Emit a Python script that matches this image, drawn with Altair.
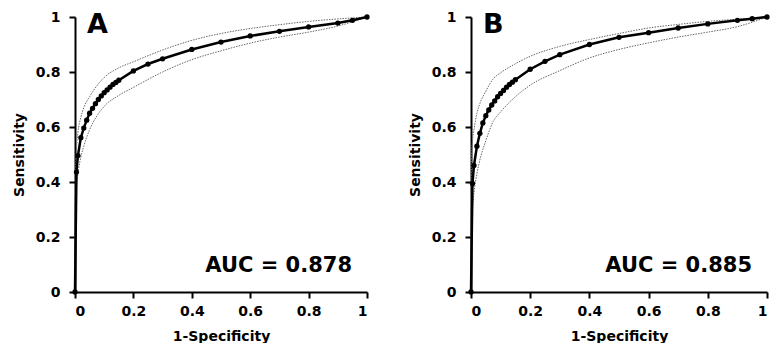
import altair as alt
import pandas as pd

# ---- Panel A data ----
fpr_a = [0, 0.005, 0.01, 0.02, 0.03, 0.04, 0.05, 0.06, 0.07, 0.08, 0.09, 0.10, 0.11, 0.12,
         0.13, 0.14, 0.15, 0.2, 0.25, 0.3, 0.4, 0.5, 0.6, 0.7, 0.8, 0.9, 0.95, 1]
sens_a = [0, 0.436, 0.496, 0.561, 0.596, 0.625, 0.65, 0.668, 0.685, 0.70, 0.713, 0.725, 0.735,
          0.745, 0.755, 0.762, 0.77, 0.804, 0.829, 0.848, 0.882, 0.909, 0.931, 0.948, 0.964,
          0.978, 0.988, 1]

ci_fpr = [0, 0.002, 0.005, 0.01, 0.02, 0.03, 0.05, 0.075, 0.1, 0.15, 0.2, 0.3, 0.4, 0.5,
          0.6, 0.7, 0.8, 0.9, 1]
upper_a = [0, 0.45, 0.52, 0.58, 0.635, 0.67, 0.71, 0.75, 0.78, 0.815, 0.837, 0.88, 0.915,
           0.94, 0.958, 0.972, 0.984, 0.993, 1]
lower_a = [0, 0.30, 0.38, 0.43, 0.49, 0.53, 0.59, 0.64, 0.675, 0.715, 0.744, 0.80, 0.845,
           0.877, 0.905, 0.927, 0.945, 0.967, 1]

# ---- Panel B data ----
fpr_b = [0, 0.005, 0.01, 0.02, 0.03, 0.04, 0.05, 0.06, 0.07, 0.08, 0.09, 0.10, 0.11, 0.12,
         0.13, 0.14, 0.15, 0.2, 0.25, 0.3, 0.4, 0.5, 0.6, 0.7, 0.8, 0.9, 0.95, 1]
sens_b = [0, 0.395, 0.46, 0.53, 0.577, 0.615, 0.641, 0.662, 0.68, 0.695, 0.71, 0.722, 0.733,
          0.745, 0.755, 0.763, 0.772, 0.81, 0.839, 0.863, 0.90, 0.926, 0.943, 0.96, 0.975,
          0.988, 0.994, 1]
upper_b = [0, 0.50, 0.55, 0.59, 0.65, 0.685, 0.73, 0.775, 0.797, 0.83, 0.857, 0.893, 0.918,
           0.94, 0.96, 0.973, 0.984, 0.992, 1]
lower_b = [0, 0.25, 0.30, 0.36, 0.43, 0.48, 0.55, 0.62, 0.655, 0.71, 0.752, 0.805, 0.851,
           0.882, 0.906, 0.927, 0.945, 0.965, 1]

ticks = [0, 0.2, 0.4, 0.6, 0.8, 1]
FONT = "DejaVu Sans"


def panel(fpr, sens, upper, lower, letter, auc_text, width, auc_x):
    main = pd.DataFrame({"fpr": fpr, "sens": sens})
    ci = pd.concat([
        pd.DataFrame({"fpr": ci_fpr, "sens": upper, "band": "upper"}),
        pd.DataFrame({"fpr": ci_fpr, "sens": lower, "band": "lower"}),
    ])
    xs = alt.Scale(domain=[0, 1], nice=False)
    ys = alt.Scale(domain=[0, 1], nice=False)
    xenc = alt.X("fpr:Q", scale=xs, title="1-Specificity",
                 axis=alt.Axis(values=ticks, format="~g"))
    yenc = alt.Y("sens:Q", scale=ys, title="Sensitivity",
                 axis=alt.Axis(values=ticks, format="~g"))
    ci_layer = alt.Chart(ci).mark_line(
        color="#666666", strokeWidth=1, strokeDash=[1.5, 1.2], interpolate="monotone"
    ).encode(x=xenc, y=yenc, detail="band:N")
    line_layer = alt.Chart(main).mark_line(color="black", strokeWidth=2.5).encode(x=xenc, y=yenc)
    pt_layer = alt.Chart(main).mark_circle(color="black", size=28, opacity=1).encode(x=xenc, y=yenc)
    letter_layer = alt.Chart(pd.DataFrame({"t": [letter]})).mark_text(
        font=FONT, fontSize=27, fontWeight="bold", align="left", baseline="alphabetic", color="black"
    ).encode(text="t:N", x=alt.value(12), y=alt.value(16))
    auc_layer = alt.Chart(pd.DataFrame({"t": [auc_text]})).mark_text(
        font=FONT, fontSize=21, fontWeight="bold", align="right", baseline="alphabetic", color="black"
    ).encode(text="t:N", x=alt.value(auc_x), y=alt.value(255))
    return alt.layer(ci_layer, line_layer, pt_layer, letter_layer, auc_layer).properties(
        width=width, height=275
    )


pa = panel(fpr_a, sens_a, upper_a, lower_a, "A", "AUC = 0.878", 292, 277)
pb = panel(fpr_b, sens_b, upper_b, lower_b, "B", "AUC = 0.885", 296, 281)

chart = alt.hconcat(pa, pb, spacing=36).properties(
    padding={"left": 4, "top": 2, "right": 0, "bottom": 0}
).configure_view(stroke=None).configure_axis(
    grid=False,
    domainColor="black",
    domainWidth=2,
    tickColor="black",
    tickWidth=2,
    tickSize=6,
    labelFont=FONT,
    labelFontSize=14,
    labelFontWeight="bold",
    labelColor="black",
    labelPadding=6,
    titleFont=FONT,
    titleFontSize=14,
    titleFontWeight="bold",
    titleColor="black",
    titlePadding=8,
).configure_axisX(titlePadding=11).configure_axisY(labelPadding=9, titlePadding=9)

chart.save("out.html", embed_options={"renderer": "svg", "actions": False})
